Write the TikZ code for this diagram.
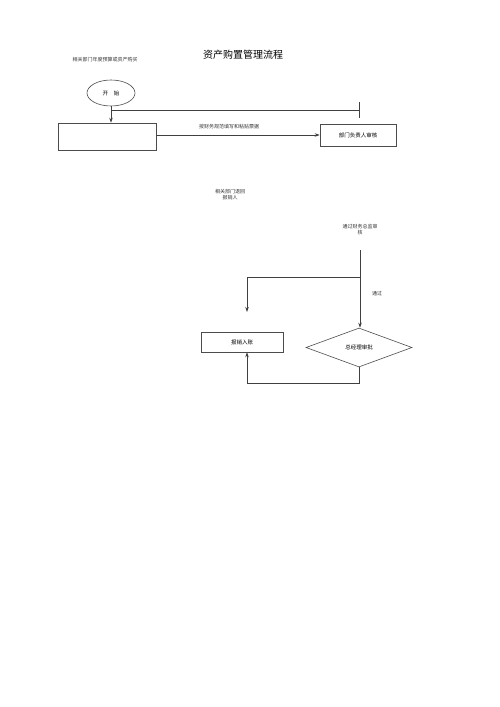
\documentclass[tikz,border=0pt]{standalone}
\usepackage{fontspec}
\newfontfamily\cjk{Noto Sans CJK SC}
\usetikzlibrary{shapes.geometric,arrows.meta}
\begin{document}
\begin{tikzpicture}[x=1pt,y=-1pt,
  line/.style={draw=black!75,line width=0.7pt},
  arr/.style={line,-{Stealth[length=5pt,width=3.5pt]}},
  box/.style={draw=black!70,line width=0.6pt,inner sep=0pt,font=\cjk\fontsize{5.5}{6}\selectfont},
  lbl/.style={font=\cjk\fontsize{5}{6}\selectfont,inner sep=0pt,align=center,text=black!80}]
\useasboundingbox (0,0) rectangle (500,707);
\node[font=\cjk\fontsize{10}{12}\selectfont,inner sep=0pt] (title) at (243,55) {资产购置管理流程};
\node[lbl] (budget) at (105,60) {相关部门年度预算或资产购买};
\node[box,ellipse,minimum width=48pt,minimum height=26pt] (start) at (111,93) {开\hspace{6pt}始};
\node[box,minimum width=98pt,minimum height=27pt] (fill) at (107,136.5) {};
\node[box,minimum width=76pt,minimum height=22pt] (dept) at (358,135) {部门负责人审核};
\node[lbl] (rule) at (229,127) {按财务规范填写和粘贴票据};
\node[lbl] (ret) at (230,195) {相关部门退回\\报销人};
\node[lbl] (cfo) at (360,229.5) {通过财务总监审\\核};
\node[lbl] (pass) at (377,294) {通过};
\node[box,minimum width=82pt,minimum height=20pt] (book) at (242,342) {报销入账};
\node[box,diamond,aspect=2.7,minimum width=106pt,minimum height=39pt] (gm) at (359,347.5) {总经理审批};
\coordinate (tjoin) at (111,110);
\coordinate (tend) at (360,110);
\coordinate (vtop) at (360,250);
\coordinate (split) at (360,277);
\coordinate (lsplit) at (247,277);
\coordinate (gmdown) at (359,383);
\coordinate (back) at (247,383);
\draw[arr] (start.south) -- (fill.north -| start.south);
\draw[line,-{Bar[width=16pt]}] (tjoin) -- (tend);
\draw[arr] (fill.east |- dept.west) -- (dept.west);
\draw[arr] (vtop) -- (gm.north -| vtop);
\draw[arr] (split) -- (lsplit) -- (247,312);
\draw[arr] (gm.south) -- (gmdown) -- (back) -- (book.south -| back);
\end{tikzpicture}
\end{document}
